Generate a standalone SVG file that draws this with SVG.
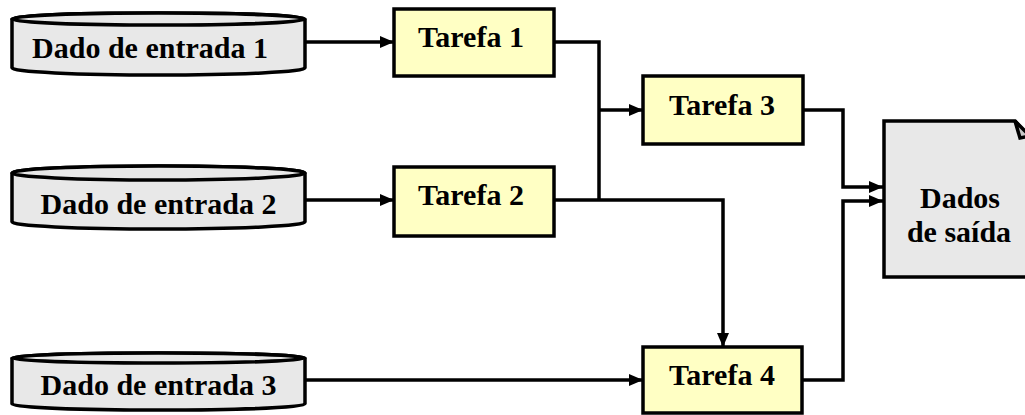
<svg xmlns="http://www.w3.org/2000/svg" width="1025" height="415" viewBox="0 0 1025 415">
<defs>
<style>
.shape{stroke:#000;stroke-width:3.5;stroke-linejoin:miter}
.cyl{fill:#e8e8e8}
.task{fill:#ffffc4}
.doc{fill:#e8e8e8}
.lbl{font-family:"Liberation Serif","Times New Roman",serif;font-weight:bold;font-size:30px;fill:#000;text-anchor:middle}
.conn{fill:none;stroke:#000;stroke-width:3.5}
</style>
<marker id="arr" viewBox="0 0 14 12" refX="14" refY="6" markerWidth="14" markerHeight="12" markerUnits="userSpaceOnUse" orient="auto">
<path d="M0,0 L14,6 L0,12 z" fill="#000"/>
</marker>
</defs>
<rect width="1025" height="415" fill="#fff"/>
<g id="connectors">
<path class="conn" d="M305,42 H394" marker-end="url(#arr)"/>
<path class="conn" d="M305,200 H394" marker-end="url(#arr)"/>
<path class="conn" d="M305,380 H643" marker-end="url(#arr)"/>
<path class="conn" d="M554,42 H599 V200"/>
<path class="conn" d="M599,110 H643" marker-end="url(#arr)"/>
<path class="conn" d="M554,200 H723 V347" marker-end="url(#arr)"/>
<path class="conn" d="M803,110 H843 V187 H883" marker-end="url(#arr)"/>
<path class="conn" d="M802,380 H843 V201 H883" marker-end="url(#arr)"/>
</g>
<g id="input1">
<path class="shape cyl" d="M12,19 V68 A146.5,7 0 0 0 305,68 V19 A146.5,6 0 0 0 12,19 Z"/>
<ellipse class="shape cyl" cx="158.5" cy="19" rx="146.5" ry="6"/>
<text class="lbl" x="150" y="58">Dado de entrada 1</text>
</g>
<g id="input2">
<path class="shape cyl" d="M12,173 V222 A146.5,7 0 0 0 305,222 V173 A146.5,7 0 0 0 12,173 Z"/>
<ellipse class="shape cyl" cx="158.5" cy="173" rx="146.5" ry="7"/>
<text class="lbl" x="158.5" y="214">Dado de entrada 2</text>
</g>
<g id="input3">
<path class="shape cyl" d="M12,358 V404 A146.5,6 0 0 0 305,404 V358 A146.5,5 0 0 0 12,358 Z"/>
<ellipse class="shape cyl" cx="158.5" cy="358" rx="146.5" ry="5"/>
<text class="lbl" x="158.5" y="395">Dado de entrada 3</text>
</g>
<g id="task1">
<rect class="shape task" x="394" y="9" width="160" height="67"/>
<text class="lbl" x="471" y="47">Tarefa 1</text>
</g>
<g id="task2">
<rect class="shape task" x="394" y="167" width="160" height="69"/>
<text class="lbl" x="471" y="205">Tarefa 2</text>
</g>
<g id="task3">
<rect class="shape task" x="643" y="76" width="160" height="68"/>
<text class="lbl" x="722" y="115">Tarefa 3</text>
</g>
<g id="task4">
<rect class="shape task" x="643" y="347" width="159" height="66"/>
<text class="lbl" x="722" y="385">Tarefa 4</text>
</g>
<g id="output">
<path class="shape doc" d="M884,121 H1015 L1030,138 V277 H884 Z"/>
<path class="shape" fill="#c8c8c8" d="M1015,121 L1020,138 L1030,136 Z"/>
<text class="lbl" x="960" y="208">Dados</text>
<text class="lbl" x="959" y="242">de saída</text>
</g>
</svg>
